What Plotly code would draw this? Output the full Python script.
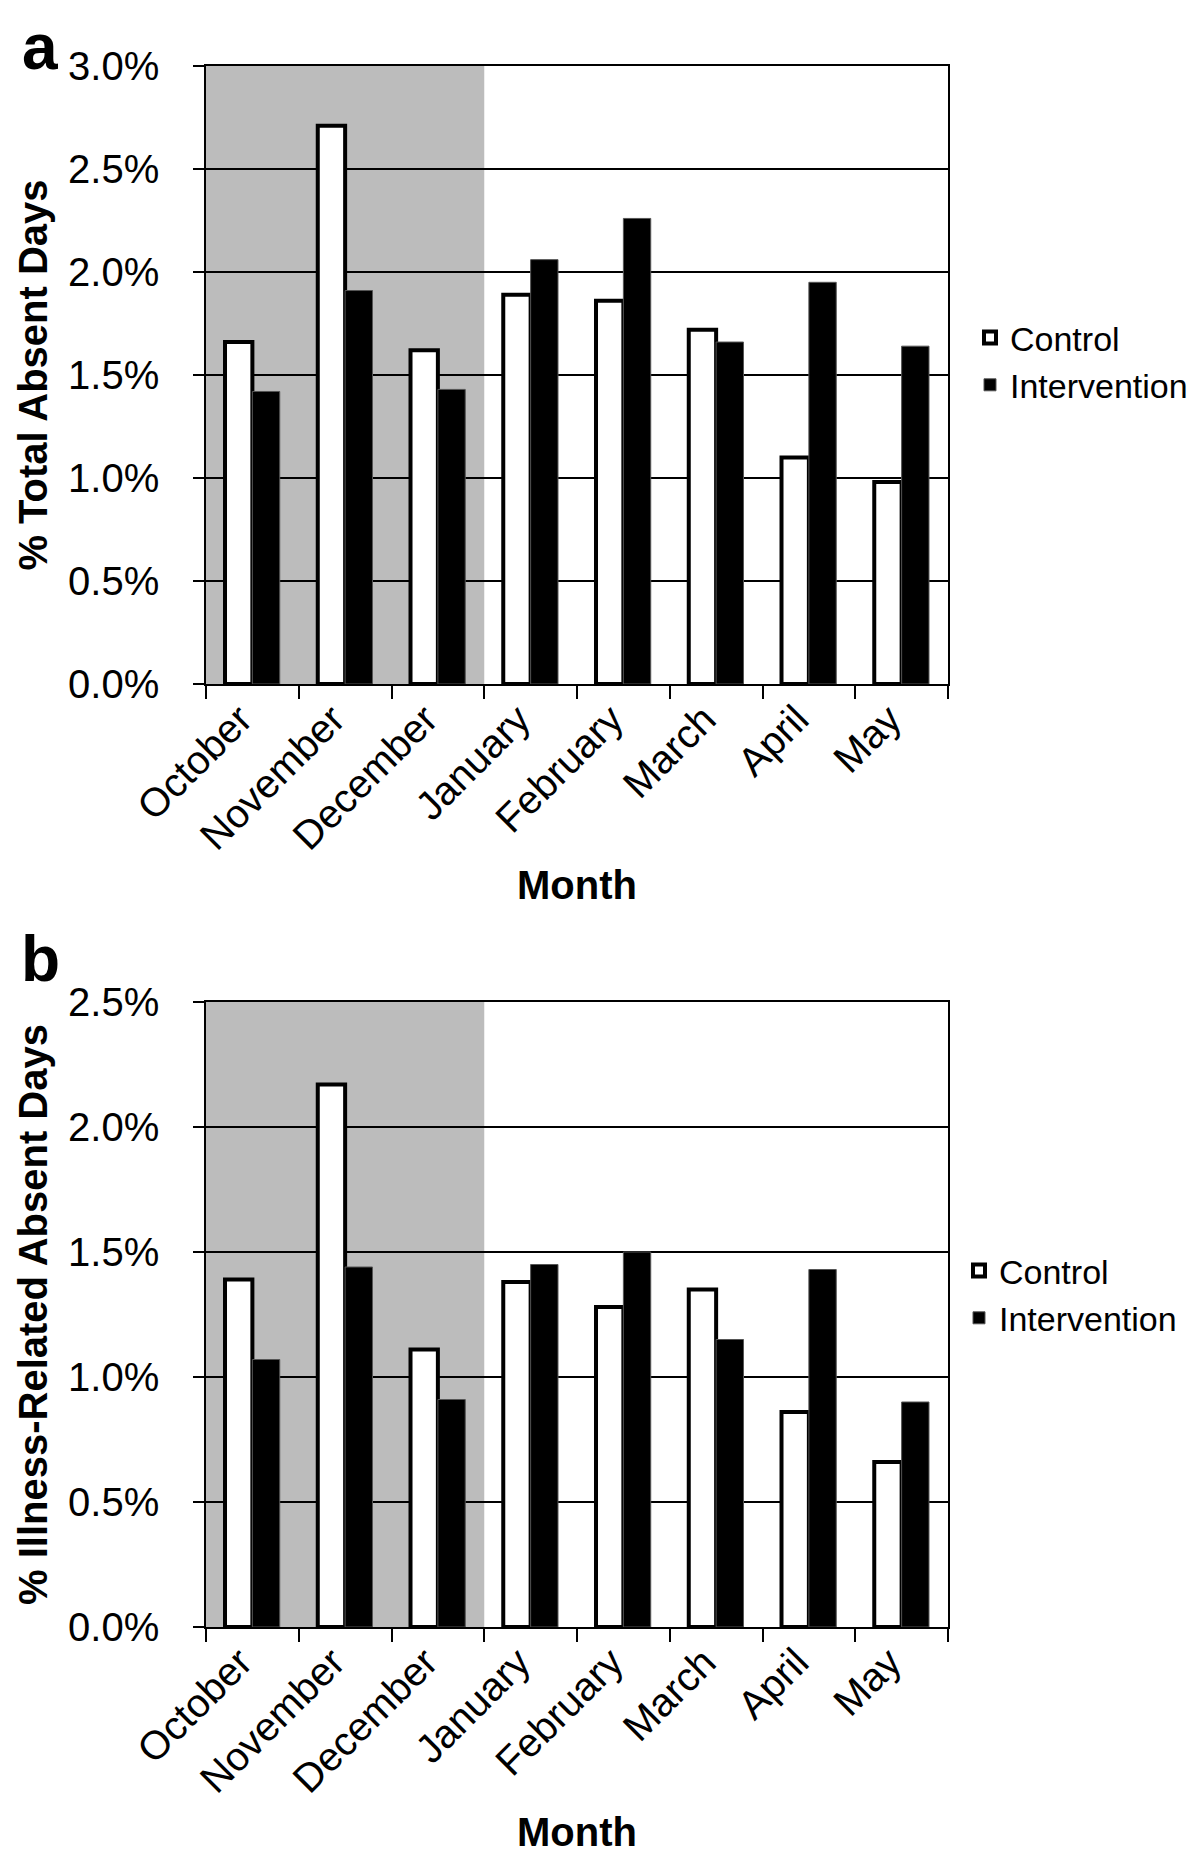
import plotly.graph_objects as go

W, H = 1200, 1859
FONT = "Liberation Sans, Arial, sans-serif"

months = ["October", "November", "December", "January", "February", "March", "April", "May"]
shaded_months = ["October", "November", "December"]

total_control = [1.66, 2.71, 1.62, 1.89, 1.86, 1.72, 1.10, 0.98]
total_intervention = [1.42, 1.91, 1.43, 2.06, 2.26, 1.66, 1.95, 1.64]

illness_control = [1.39, 2.17, 1.11, 1.38, 1.28, 1.35, 0.86, 0.66]
illness_intervention = [1.07, 1.44, 0.91, 1.45, 1.50, 1.15, 1.43, 0.90]


def px_x(v):
    return v / W


def px_y(v):
    return 1 - v / H


fig = go.Figure()

panels = [
    ("x", "y", "legend", total_control, total_intervention),
    ("x2", "y2", "legend2", illness_control, illness_intervention),
]
for xa, ya, lg, ctrl, intv in panels:
    fig.add_trace(
        go.Bar(
            x=months, y=ctrl, name="Control", xaxis=xa, yaxis=ya, legend=lg,
            marker=dict(color="white", line=dict(color="black", width=4)),
        )
    )
    fig.add_trace(
        go.Bar(
            x=months, y=intv, name="Intervention", xaxis=xa, yaxis=ya, legend=lg,
            marker=dict(color="black", line=dict(color="#555555", width=1)),
        )
    )

# shaded winter months
for xa, ya, ymax in [("x", "y", 3.0), ("x2", "y2", 2.5)]:
    fig.add_shape(
        type="rect", xref=xa, yref=ya,
        x0=-0.5, x1=len(shaded_months) - 0.5, y0=0, y1=ymax,
        fillcolor="#bcbcbc", line=dict(width=0), layer="below",
    )

xaxis_common = dict(
    type="category",
    tickson="boundaries",
    ticks="outside", ticklen=13, tickwidth=1.5, tickcolor="black",
    showline=True, linecolor="black", linewidth=1.5, mirror=True,
    showgrid=False,
    tickangle=-45,
    tickfont=dict(family=FONT, size=40, color="black"),
    ticklabelshift=-12, ticklabelstandoff=-6,
    automargin=False,
)
yaxis_common = dict(
    dtick=0.5, tickformat=".1f", ticksuffix="%",
    ticks="outside", ticklen=11, tickwidth=1.5, tickcolor="black",
    showline=True, linecolor="black", linewidth=1.5, mirror=True,
    showgrid=True, gridcolor="black", gridwidth=1.5,
    zeroline=False,
    tickfont=dict(family=FONT, size=40, color="black"),
    ticklabelstandoff=26,
    automargin=False,
)

xdom = [px_x(198), px_x(940)]

fig.update_layout(
    width=W, height=H,
    margin=dict(l=0, r=0, t=0, b=0),
    paper_bgcolor="white", plot_bgcolor="white",
    barmode="group", bargap=0.41, bargroupgap=0,
    font=dict(family=FONT, color="black"),
    xaxis=dict(
        xaxis_common, domain=xdom, anchor="y",
        title=dict(text="<b>Month</b>", font=dict(family=FONT, size=40), standoff=14),
    ),
    yaxis=dict(
        yaxis_common, domain=[px_y(676), px_y(58)], anchor="x", range=[0, 3.0],
        title=dict(text="<b>% Total Absent Days</b>", font=dict(family=FONT, size=40), standoff=8),
    ),
    xaxis2=dict(
        xaxis_common, domain=xdom, anchor="y2",
        title=dict(text="<b>Month</b>", font=dict(family=FONT, size=40), standoff=18),
    ),
    yaxis2=dict(
        yaxis_common, domain=[px_y(1619), px_y(994)], anchor="x2", range=[0, 2.5],
        title=dict(text="<b>% Illness-Related Absent Days</b>", font=dict(family=FONT, size=40), standoff=8),
    ),
    legend=dict(
        x=px_x(962), xanchor="left", y=px_y(301), yanchor="top",
        font=dict(family=FONT, size=34, color="black"),
        bgcolor="rgba(0,0,0,0)", traceorder="normal",
    ),
    legend2=dict(
        x=px_x(951), xanchor="left", y=px_y(1234), yanchor="top",
        font=dict(family=FONT, size=34, color="black"),
        bgcolor="rgba(0,0,0,0)", traceorder="normal",
    ),
    showlegend=True,
)

for letter, y in [("a", 1), ("b", 913)]:
    fig.add_annotation(
        text=f"<b>{letter}</b>", xref="paper", yref="paper",
        x=px_x(32), y=px_y(y), xanchor="center", yanchor="top",
        showarrow=False, font=dict(family=FONT, size=64, color="black"),
    )

fig.write_html("out.html")
